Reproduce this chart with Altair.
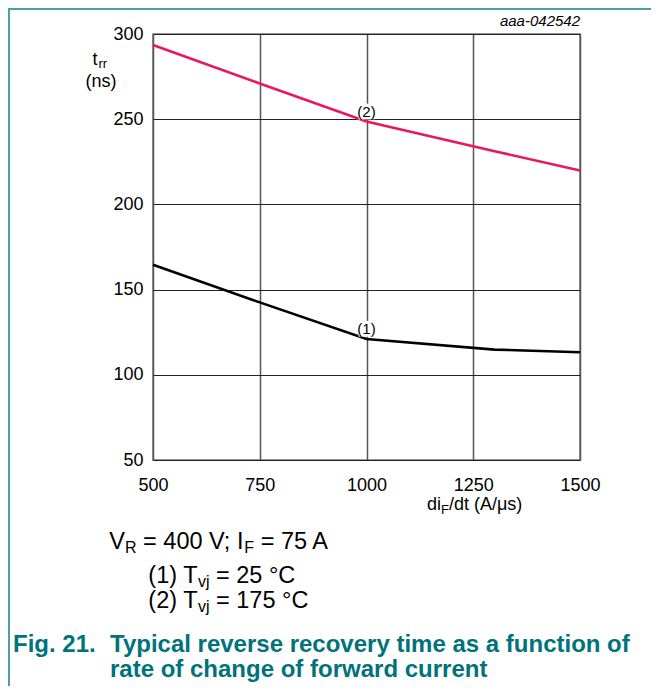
import altair as alt
import pandas as pd

# ---------------- data ----------------
x_rate = [500, 750, 1000, 1300, 1500]            # diF/dt (A/us)
trr_25 = [164.6, 142.5, 121.0, 114.8, 113.2]     # (1) Tvj = 25 C
trr_175 = [293.6, 271.0, 248.6, 231.2, 219.9]    # (2) Tvj = 175 C
x_ticks = [500, 750, 1000, 1250, 1500]
y_ticks = [50, 100, 150, 200, 250, 300]
curve_labels = ["(1)", "(2)"]
label_x = [1000, 1000]
label_y = [127.0, 254.5]

W, H = 427, 426
FONT = "Liberation Sans"
TEAL = "#00737a"
BORDER = "#4e9ea4"
RED = "#e8195a"

# Arial / Liberation Sans advance widths (1/1000 em) for placing sub-scripted runs
CW = {' ': 278, '(': 333, ')': 333, ';': 278, '=': 584, '°': 400, 'A': 667, 'C': 722,
      'F': 611, 'I': 278, 'R': 722, 'T': 611, 'V': 667, 'j': 222, 'v': 500, '/': 278,
      'd': 556, 'i': 222, 't': 278, 's': 500, 'μ': 577}
for ch in "0123456789":
    CW[ch] = 556


def tw(s, size):
    return sum(CW.get(c, 556) for c in s) * size / 1000.0


one = pd.DataFrame({"k": [0]})


def txt(s, x, y, size, align="left", baseline="alphabetic", color="black",
        weight="normal", style="normal"):
    return alt.Chart(one).mark_text(
        text=s, align=align, baseline=baseline, font=FONT, fontSize=size,
        color=color, fontWeight=weight, fontStyle=style
    ).encode(x=alt.value(x), y=alt.value(y))


def runs(parts, x0, y):
    """parts: list of (text, size, dy); leading blanks are turned into offsets."""
    out = []
    x = x0
    for s, size, dy in parts:
        stripped = s.lstrip(" ")
        x += tw(s[: len(s) - len(stripped)], size)
        out.append(txt(stripped.rstrip(" "), x, y + dy, size))
        x += tw(stripped, size)
    return out


df = pd.DataFrame({
    "x": x_rate + x_rate,
    "y": trr_25 + trr_175,
    "c": ["1"] * len(x_rate) + ["2"] * len(x_rate),
})
lab = pd.DataFrame({"x": label_x, "y": label_y, "t": curve_labels})

xs = alt.Scale(domain=[500, 1500], nice=False, zero=False)
ys = alt.Scale(domain=[50, 300], nice=False, zero=False)

x_axis = alt.Axis(values=x_ticks, title=None, format="d", grid=True, gridColor="#555555",
                  gridWidth=1.5, domain=False, ticks=False, tickSize=0,
                  labelPadding=30, labelBaseline="alphabetic", labelFont=FONT,
                  labelFontSize=18, labelColor="black", labelFlush=False,
                  labelOverlap=False, labelBound=False)
y_axis = alt.Axis(values=y_ticks, title=None, format="d", grid=True, gridColor="#222222",
                  gridWidth=1, domain=False, ticks=False, tickSize=0,
                  labelPadding=10, labelFont=FONT, labelFontSize=18,
                  labelColor="black", labelFlush=False, labelOverlap=False,
                  labelBound=False)

lines = alt.Chart(df).mark_line(strokeWidth=2.6).encode(
    x=alt.X("x:Q", scale=xs, axis=x_axis),
    y=alt.Y("y:Q", scale=ys, axis=y_axis),
    color=alt.Color("c:N", scale=alt.Scale(domain=["1", "2"], range=["#000000", RED]),
                    legend=None),
)

lab_bg = alt.Chart(lab).mark_square(size=250, color="white", opacity=1, filled=True).encode(
    x=alt.X("x:Q", scale=xs), y=alt.Y("y:Q", scale=ys))
lab_txt = alt.Chart(lab).mark_text(font=FONT, fontSize=15, color="black",
                                   baseline="middle", align="center").encode(
    x=alt.X("x:Q", scale=xs), y=alt.Y("y:Q", scale=ys), text="t:N")

layers = [lines, lab_bg, lab_txt]

# y-axis title  t_rr (ns)
layers += [txt("t", -60.5, 31, 18), txt("rr", -54.5, 34, 13),
           txt("(ns)", -52, 52.5, 18, align="center")]
# x-axis title  di_F/dt (A/μs)
layers += runs([("di", 18, 0), ("F", 13, 4), ("/dt (A/μs)", 18, 0)], 274, 475.5)
# figure code
layers += [txt("aaa-042542", 427, -8, 15, align="right", style="italic")]

# conditions
S, s = 23.5, 16
layers += runs([("V", S, 0), ("R", s, 4), (" = 400 V; I", S, 0), ("F", s, 4),
                (" = 75 A", S, 0)], -43.7, 515.3)
layers += runs([("(1) T", S, 0), ("vj", s, 4), (" = 25 °C", S, 0)], -4.7, 549.3)
layers += runs([("(2) T", S, 0), ("vj", s, 4), (" = 175 °C", S, 0)], -4.7, 574.3)

# caption
layers += [
    txt("Fig. 21.", -140, 618, 24, color=TEAL, weight="bold"),
    txt("Typical reverse recovery time as a function of", -43, 618, 24, color=TEAL,
        weight="bold"),
    txt("rate of change of forward current", -43, 643, 24, color=TEAL, weight="bold"),
]

BOTTOM = 226
# teal frame (left and top edges)
layers += [
    alt.Chart(one).mark_rule(color=BORDER, strokeWidth=2).encode(
        x=alt.value(-144), y=alt.value(-25), y2=alt.value(H + BOTTOM)),
    alt.Chart(one).mark_rule(color=BORDER, strokeWidth=2).encode(
        x=alt.value(-145), x2=alt.value(W + 71), y=alt.value(-25)),
]

chart = alt.layer(*layers).properties(
    width=W, height=H,
    autosize=alt.AutoSizeParams(type="none"),
    padding={"left": 145, "top": 26, "right": 71, "bottom": BOTTOM},
).configure_view(stroke="#777777", strokeWidth=1.5)

chart.save("out.html", embed_options={"renderer": "svg", "actions": False})
